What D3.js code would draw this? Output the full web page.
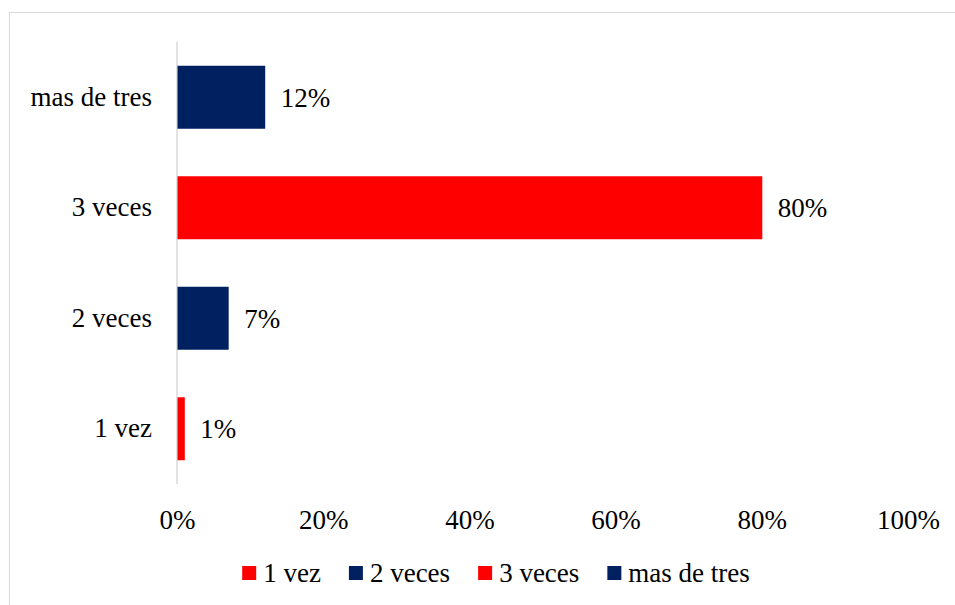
<!DOCTYPE html>
<html>
<head>
<meta charset="utf-8">
<script src="https://cdn.jsdelivr.net/npm/d3@7"></script>
<style>
  html, body { margin: 0; padding: 0; background: #fff; }
  svg { display: block; }
  svg text { font-family: "Liberation Serif", "Times New Roman", Times, Tinos, "DejaVu Serif", serif; fill: #000; }
</style>
</head>
<body>
<svg id="chart" width="955" height="605"></svg>
<script>
// Categories (bottom to top) and their shares
const categories = ["1 vez", "2 veces", "3 veces", "mas de tres"];
const values = [0.01, 0.07, 0.80, 0.12];
const colors = ["#FF0000", "#002060", "#FF0000", "#002060"];
const xTicks = [0, 0.2, 0.4, 0.6, 0.8, 1.0];

const serif = '"Liberation Serif", "Times New Roman", Times, Tinos, "DejaVu Serif", serif';
const svg = d3.select("#chart");
const fontSize = 27;

// Chart frame
svg.append("rect")
  .attr("x", 9.5).attr("y", 12.5)
  .attr("width", 960).attr("height", 610)
  .attr("fill", "none").attr("stroke", "#d9d9d9").attr("stroke-width", 1);

const x = d3.scaleLinear().domain([0, 1]).range([177, 908]);
const y = d3.scaleBand().domain(categories).range([484, 42]).paddingInner(0.43).paddingOuter(0.215);

// Value axis labels
const xAxis = d3.axisBottom(x).tickValues(xTicks).tickFormat(d3.format(".0%")).tickSize(0).tickPadding(0);
const gx = svg.append("g").attr("transform", "translate(0,529)").call(xAxis)
  .attr("font-family", serif).attr("font-size", fontSize);
gx.select(".domain").remove();
gx.selectAll("text").attr("dy", 0).attr("fill", "#000");

// Category axis
const yAxis = d3.axisLeft(y).tickSize(0).tickPadding(25);
const gy = svg.append("g").attr("transform", `translate(${x(0)},0)`).call(yAxis)
  .attr("font-family", serif).attr("font-size", fontSize);
gy.select(".domain").attr("stroke", "#d9d9d9").attr("stroke-width", 1.5)
  .attr("d", `M0,42V484`);
gy.selectAll("text").attr("fill", "#000");

// Bars
const rows = categories.map((c, i) => ({ cat: c, v: values[i], color: colors[i] }));
svg.append("g").selectAll("rect").data(rows).join("rect")
  .attr("x", x(0) + 0.5)
  .attr("y", d => y(d.cat))
  .attr("width", d => x(d.v) - x(0))
  .attr("height", y.bandwidth())
  .attr("fill", d => d.color);

// Value labels
svg.append("g").attr("font-family", serif).attr("font-size", fontSize)
  .selectAll("text").data(rows).join("text")
  .attr("x", d => x(d.v) + 16)
  .attr("y", d => y(d.cat) + y.bandwidth() / 2)
  .attr("dy", "0.35em")
  .text(d => d3.format(".0%")(d.v));

// Legend
const legendItems = categories.map((c, i) => ({ name: c, color: colors[i] }));
const legend = svg.append("g").attr("font-family", serif).attr("font-size", fontSize);
let lx = 0;
legendItems.forEach(item => {
  const g = legend.append("g").attr("transform", `translate(${lx},0)`);
  g.append("rect").attr("x", 0).attr("y", -7).attr("width", 14).attr("height", 14).attr("fill", item.color);
  const t = g.append("text").attr("x", 21).attr("y", 0).attr("dy", "0.35em").text(item.name);
  lx += 21 + t.node().getComputedTextLength() + 28;
});
const legendWidth = lx - 28;
legend.attr("transform", `translate(${(240 + 752) / 2 - legendWidth / 2},573)`);
</script>
</body>
</html>
